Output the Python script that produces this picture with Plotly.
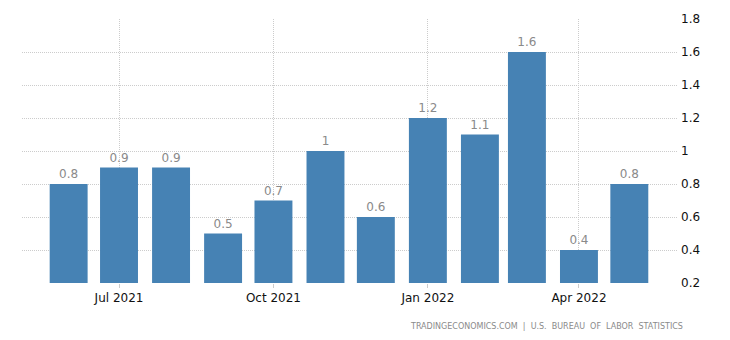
import plotly.graph_objects as go

months = ["2021-06-01", "2021-07-01", "2021-08-01", "2021-09-01", "2021-10-01",
          "2021-11-01", "2021-12-01", "2022-01-01", "2022-02-01", "2022-03-01",
          "2022-04-01", "2022-05-01"]
values = [0.8, 0.9, 0.9, 0.5, 0.7, 1, 0.6, 1.2, 1.1, 1.6, 0.4, 0.8]
labels = ["0.8", "0.9", "0.9", "0.5", "0.7", "1", "0.6", "1.2", "1.1", "1.6", "0.4", "0.8"]

tick_dates = ["2021-07-01", "2021-10-01", "2022-01-01", "2022-04-01"]
tick_text = ["Jul 2021", "Oct 2021", "Jan 2022", "Apr 2022"]
y_ticks = [0.2, 0.4, 0.6, 0.8, 1, 1.2, 1.4, 1.6, 1.8]
y_text = ["0.2", "0.4", "0.6", "0.8", "1", "1.2", "1.4", "1.6", "1.8"]

DAY_MS = 86400000
grid = "#cccccc"

fig = go.Figure(go.Bar(
    x=months, y=values, text=labels, textposition="outside",
    textfont=dict(color="#8a8a8a", size=12, family="DejaVu Sans"),
    marker=dict(color="#4682B4", line=dict(width=0)),
    width=[22.6 * DAY_MS] * len(months), cliponaxis=False,
))

fig.update_layout(
    width=730, height=340,
    margin=dict(l=22, r=52, t=19, b=57),
    paper_bgcolor="white", plot_bgcolor="white",
    showlegend=False,
    font=dict(family="DejaVu Sans", size=12, color="#000"),
    xaxis=dict(
        type="date", range=["2021-05-04 05:00", "2022-05-30"],
        tickmode="array", tickvals=tick_dates, ticktext=tick_text,
        showgrid=True, gridcolor=grid, griddash="1px,1px", gridwidth=1,
        ticks="outside", ticklen=4, tickcolor=grid,
        zeroline=False, showline=False,
        tickfont=dict(size=12, color="#111"),
    ),
    yaxis=dict(
        range=[0.2, 1.8], side="right",
        tickmode="array", tickvals=y_ticks, ticktext=y_text,
        showgrid=True, gridcolor=grid, griddash="1px,1px", gridwidth=1,
        zeroline=False, showline=False, ticks="",
        ticklabelstandoff=2,
        tickfont=dict(size=12, color="#111"),
    ),
    annotations=[dict(
        text="TRADINGECONOMICS.COM  |  U.S.  BUREAU  OF  LABOR  STATISTICS",
        xref="paper", yref="paper", x=1.01, y=-0.14,
        xanchor="right", yanchor="top", showarrow=False,
        font=dict(size=8, color="#8a8a8a", family="DejaVu Sans"),
    )],
)

fig.write_html("out.html")
